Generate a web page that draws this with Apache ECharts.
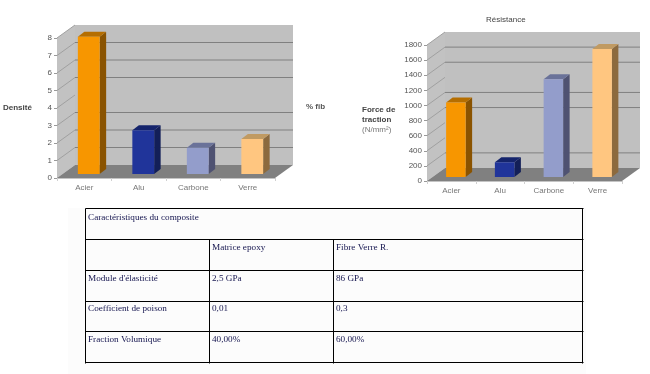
<!DOCTYPE html>
<html><head><meta charset="utf-8">
<style>html,body{margin:0;padding:0;background:#fff}#c{width:650px;height:374px}</style>
<script src="https://cdn.jsdelivr.net/npm/echarts@6/dist/echarts.min.js"></script>
</head><body><div id="c"></div>
<script>
const categories = ['Acier','Alu','Carbone','Verre'];
const densite = [7.85,2.5,1.5,2];
const resistance = [985,195,1295,1695];
const densiteTicksDrawn = [1,2,3,5,6,7];
const resistanceTicksDrawn = [200,800,1000,1400,1600];
const densiteSideTicks = [1,2,3,4,5,6,7,8];
const resistanceSideTicks = [200,400,600,800,1000,1200,1400,1600,1800];
const faceColors = ['#f79600','#20349a','#939dcb','#ffc680'];
const topColors = ['#b56e00','#15246c','#6a7299','#c09a62'];
const sideColors = ['#8a5300','#131f58','#4f5272','#8c6a3e'];
const tableRows = [
  ['Caractéristiques du composite','',''],
  ['','Matrice epoxy','Fibre Verre R.'],
  ["Module d'élasticité",'2,5 GPa','86 GPa'],
  ['Coefficient de poison','0,01','0,3'],
  ['Fraction Volumique','40,00%','60,00%']
];
const tableColX = [85.5,209.5,333.5,582.5];
const tableRowY = [208.5,239.5,270.5,301.5,331.5,362.5];
const depth = {dx:18,dy:-13};
const barShift = {dx:4.5,dy:-4};
const barDepth = {dx:6.5,dy:-5};
const SANS = '"Liberation Sans",Arial,sans-serif';
const SERIF = '"Liberation Serif","Times New Roman",serif';

function poly(points,fill,stroke){
  return {type:'polygon',shape:{points},style:{fill,stroke:stroke||null,lineWidth:stroke?1:0}};
}
function panelRender(params,api){
  const c=params.coordSys, x0=c.x,x1=c.x+c.width,yT=c.y,yB=c.y+c.height,d=depth;
  return {type:'group',silent:true,children:[
    poly([[x0+d.dx,yT+d.dy],[x1+d.dx,yT+d.dy],[x1+d.dx,yB+d.dy],[x0+d.dx,yB+d.dy]],'#c0c0c0'),
    poly([[x0,yT],[x0+d.dx,yT+d.dy],[x0+d.dx,yB+d.dy],[x0,yB]],'#c2c2c2'),
    poly([[x0,yB],[x0+d.dx,yB+d.dy],[x1+d.dx,yB+d.dy],[x1,yB]],'#808080')
  ]};
}
function wallLineRender(params,api){
  const c=params.coordSys,y=api.coord([0,api.value(0)])[1]+depth.dy;
  return {type:'line',silent:true,shape:{x1:c.x+depth.dx,y1:y,x2:c.x+c.width+depth.dx,y2:y},style:{stroke:'#808080',lineWidth:1}};
}
function sideLineRender(params,api){
  const c=params.coordSys,y=api.coord([0,api.value(0)])[1];
  return {type:'line',silent:true,shape:{x1:c.x,y1:y,x2:c.x+depth.dx,y2:y+depth.dy},style:{stroke:'#a0a0a0',lineWidth:1}};
}
function barRender(params,api){
  const i=api.value(0),v=api.value(1);
  const top=api.coord([i,v]),base=api.coord([i,0]),w=api.size([1,0])[0]*0.4;
  const l=top[0]-w/2+barShift.dx,r=l+w,t=top[1]+barShift.dy,b=base[1]+barShift.dy,dx=barDepth.dx,dy=barDepth.dy;
  return {type:'group',children:[
    poly([[r,t],[r+dx,t+dy],[r+dx,b+dy],[r,b]],sideColors[i]),
    poly([[l,t],[l+dx,t+dy],[r+dx,t+dy],[r,t]],topColors[i]),
    poly([[l,t],[r,t],[r,b],[l,b]],faceColors[i])
  ]};
}
function chartSeries(idx,values,wallTicks,sideTicks){
  const base={type:'custom',xAxisIndex:idx,yAxisIndex:idx,clip:false,silent:true};
  return [
    Object.assign({},base,{renderItem:panelRender,data:[[0]],encode:{x:0},z:1}),
    Object.assign({},base,{renderItem:wallLineRender,data:wallTicks.map(v=>[v]),encode:{y:0},z:2}),
    Object.assign({},base,{renderItem:sideLineRender,data:sideTicks.map(v=>[v]),encode:{y:0},z:2}),
    Object.assign({},base,{renderItem:barRender,data:values.map((v,i)=>[i,v]),encode:{x:0,y:1},z:3})
  ];
}
function xAxis(grid){
  return {type:'category',gridIndex:grid,data:categories,
    axisLine:{lineStyle:{color:'#c4c4c4'}},axisTick:{show:true,length:3,lineStyle:{color:'#d0d0d0'}},
    axisLabel:{color:'#777',fontSize:8,fontFamily:SANS,margin:6,interval:0},splitLine:{show:false}};
}
function yAxis(grid,max,interval){
  return {type:'value',gridIndex:grid,min:0,max,interval,
    axisLine:{show:true,lineStyle:{color:'#c4c4c4'}},axisTick:{show:true,length:3,lineStyle:{color:'#999'}},
    axisLabel:{color:'#555',fontSize:8,fontFamily:SANS,margin:5,formatter:v=>String(v)},splitLine:{show:false}};
}
function txt(x,y,text,opt){
  return {type:'text',x,y,silent:true,style:Object.assign({text,fill:'#444',font:'8px '+SANS,textAlign:'left',textVerticalAlign:'middle'},opt||{})};
}
const graphics=[
  {type:'rect',z:-10,silent:true,shape:{x:68,y:208,width:518,height:166},style:{fill:'#fcfcfc'}},
  txt(3,107.5,'Densité',{font:'bold 8px '+SANS}),
  txt(306,106.5,'% fib',{font:'bold 8px '+SANS,fill:'#555'}),
  txt(486,19.5,'Résistance',{font:'8px '+SANS}),
  txt(362,110,'Force de',{font:'bold 8px '+SANS}),
  txt(362,120,'traction',{font:'bold 8px '+SANS}),
  txt(362,129.5,'(N/mm²)',{fill:'#777'})
];
tableRowY.forEach(y=>graphics.push({type:'line',silent:true,shape:{x1:tableColX[0],y1:y,x2:tableColX[3]+1,y2:y},style:{stroke:'#000',lineWidth:1}}));
tableColX.forEach((x,i)=>{
  const top=(i===1||i===2)?tableRowY[1]:tableRowY[0];
  graphics.push({type:'line',silent:true,shape:{x1:x,y1:top,x2:x,y2:tableRowY[5]+1},style:{stroke:'#000',lineWidth:1}});
});
const rowTextY=[217.5,248,278.5,309,340];
tableRows.forEach((row,r)=>row.forEach((t,c)=>{
  if(t) graphics.push(txt(tableColX[c]+2.5,rowTextY[r],t,{font:'9.2px '+SERIF,fill:'#15154f'}));
}));

const chart=echarts.init(document.getElementById('c'),null,{renderer:'canvas'});
chart.setOption({
  animation:false,backgroundColor:'#fff',
  grid:[{left:57,top:38,width:218,height:140},{left:427,top:45,width:195,height:136}],
  xAxis:[xAxis(0),xAxis(1)],
  yAxis:[yAxis(0,8,1),yAxis(1,1800,200)],
  series:[...chartSeries(0,densite,densiteTicksDrawn,densiteSideTicks),...chartSeries(1,resistance,resistanceTicksDrawn,resistanceSideTicks)],
  graphic:graphics
});
</script></body></html>
